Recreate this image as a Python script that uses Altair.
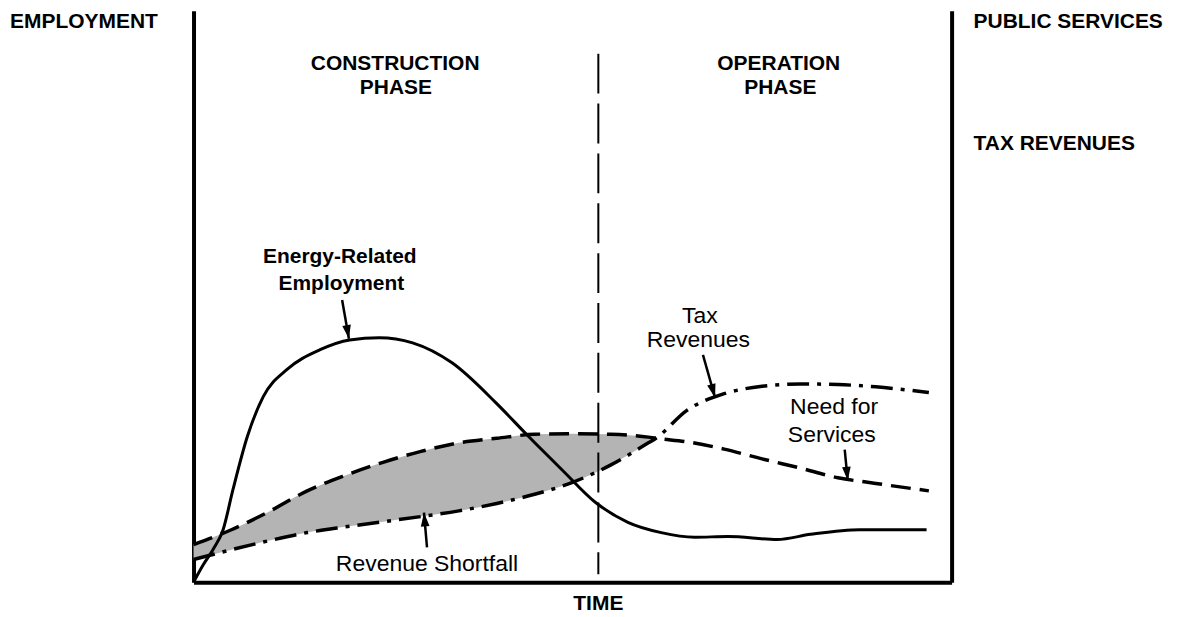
import altair as alt
import pandas as pd
import numpy as np

# ---------------- data ----------------
# shared time grid for the two public-finance curves (0-100 time units)
time_pts = [0, 5, 10, 15, 20, 25, 30, 35, 40, 45, 50, 55, 60, 61, 65, 70, 75, 80, 85, 90, 97]
need_for_services = [6.6, 9.2, 12.4, 16.0, 18.7, 21.0, 22.9, 24.4, 25.2, 25.9, 26.0, 25.9,
                     25.4, 25.2, 24.6, 23.3, 21.6, 20.0, 18.3, 17.3, 16.0]
tax_revenues = [4.0, 5.7, 7.3, 8.7, 9.7, 10.6, 11.5, 12.5, 13.8, 15.4, 17.5, 20.5,
                24.4, 25.2, 30.0, 33.0, 34.3, 34.7, 34.6, 34.2, 33.2]

emp_time = [0, 1.3, 2.6, 3.9, 5.2, 7.1, 9.2, 12.3, 16.7, 20.6, 24.5, 28.9, 34.1, 39.9,
            44.2, 48.6, 53.0, 57.3, 61.7, 66.1, 70.5, 77.0, 81.4, 87.9, 96.7]
employment = [0, 3.1, 5.8, 9.2, 16.2, 25.5, 32.5, 37.2, 40.7, 42.4, 42.8, 41.9, 38.4, 31.4,
              25.5, 19.7, 14.0, 10.5, 8.7, 7.9, 8.0, 7.5, 8.4, 9.2, 9.2]

shortfall_end = 61          # where tax revenues catch up with need for services
phase_boundary = 53.4       # construction / operation divide
boundary_top, boundary_bottom = 92.5, 1.4

# heading labels (bold capitals)
left_caps = ["EMPLOYMENT", "PUBLIC SERVICES", "TAX REVENUES"]
left_caps_x = [-24.2, 102.9, 102.9]
left_caps_y = [97.0, 97.0, 75.6]
center_caps = ["CONSTRUCTION", "PHASE", "OPERATION", "PHASE", "TIME"]
center_caps_x = [26.6, 26.7, 77.2, 77.4, 53.4]
center_caps_y = [89.7, 85.5, 89.7, 85.5, -4.9]

# curve annotations
bold_notes = ["Energy-Related", "Employment"]
bold_notes_x = [19.3, 19.5]
bold_notes_y = [55.8, 51.1]
notes = ["Tax", "Revenues", "Need for", "Services", "Revenue Shortfall"]
notes_x = [66.8, 66.6, 84.5, 84.2, 30.8]
notes_y = [45.4, 41.2, 29.5, 24.6, 1.9]

# arrows: start -> tip
arrow_x1 = [19.6, 30.8, 67.2, 85.9]
arrow_y1 = [49.4, 6.1, 39.8, 23.2]
arrow_x2 = [20.5, 30.4, 68.8, 86.3]
arrow_y2 = [42.6, 12.2, 32.3, 17.8]

# ---------------- tables ----------------
W, H = 760, 573
pf = pd.DataFrame({"x": time_pts, "y": need_for_services, "y2": tax_revenues})
emp = pd.DataFrame({"x": emp_time, "y": employment})
need_df = pd.DataFrame({"x": time_pts, "y": need_for_services})
tax_df = pd.DataFrame({"x": time_pts, "y": tax_revenues})
div_df = pd.DataFrame({"x": [phase_boundary], "y": [boundary_top], "y2": [boundary_bottom]})
lcaps = pd.DataFrame({"x": left_caps_x, "y": left_caps_y, "t": left_caps})
ccaps = pd.DataFrame({"x": center_caps_x, "y": center_caps_y, "t": center_caps})
bnotes = pd.DataFrame({"x": bold_notes_x, "y": bold_notes_y, "t": bold_notes})
rnotes = pd.DataFrame({"x": notes_x, "y": notes_y, "t": notes})
arr = pd.DataFrame({"x": arrow_x1, "y": arrow_y1, "x2": arrow_x2, "y2": arrow_y2})
sx, sy = W / 100.0, H / 100.0
arr["angle"] = np.degrees(np.arctan2((arr.x2 - arr.x) * sx, (arr.y2 - arr.y) * sy)) % 360
heads = pd.DataFrame({"x": arr.x2, "y": arr.y2, "angle": arr.angle})

# ---------------- encodings ----------------
xs = alt.Scale(domain=[0, 100], nice=False, zero=False)
ys = alt.Scale(domain=[0, 100], nice=False, zero=False)
AX = dict(domain=True, domainColor="black", domainWidth=4, labels=False,
          ticks=False, grid=False)
X = alt.X("x:Q", scale=xs, axis=alt.Axis(**AX), title=None)
Y_none = alt.Y("y:Q", scale=ys, axis=None)

area = alt.Chart(pf).transform_filter(alt.datum.x <= shortfall_end).mark_area(
    interpolate="monotone", color="#b4b4b4"
).encode(x=X, y=Y_none, y2="y2:Q")

emp_line = alt.Chart(emp).mark_line(
    interpolate="monotone", color="black", strokeWidth=3
).encode(x=X, y=alt.Y("y:Q", scale=ys, axis=alt.Axis(orient="left", **AX), title=None))

need_line = alt.Chart(need_df).mark_line(
    interpolate="monotone", color="black", strokeWidth=3.5, strokeDash=[20, 9]
).encode(x=X, y=alt.Y("y:Q", scale=ys, axis=alt.Axis(orient="right", **AX), title=None))

tax_line = alt.Chart(tax_df).mark_line(
    interpolate="monotone", color="black", strokeWidth=3.5, strokeDash=[22, 8, 4, 8]
).encode(x=X, y=Y_none)

divider = alt.Chart(div_df).mark_rule(
    color="black", strokeWidth=2, strokeDash=[40, 10]
).encode(x=X, y=Y_none, y2="y2:Q")

arrow_lines = alt.Chart(arr).mark_rule(color="black", strokeWidth=2.5).encode(
    x=X, y=Y_none, x2="x2:Q", y2="y2:Q")

arrow_heads = alt.Chart(heads).mark_point(
    shape="M0,0L0.5,1.6L-0.5,1.6Z", filled=True, color="black", opacity=1, size=300
).encode(x=X, y=Y_none, angle=alt.Angle("angle:Q", scale=None))

FONT = "Liberation Sans"
lcap_text = alt.Chart(lcaps).mark_text(
    font=FONT, fontSize=21, fontWeight="bold", align="left",
    baseline="alphabetic", color="black"
).encode(x=X, y=Y_none, text="t:N")

ccap_text = alt.Chart(ccaps).mark_text(
    font=FONT, fontSize=21, fontWeight="bold", align="center",
    baseline="alphabetic", color="black"
).encode(x=X, y=Y_none, text="t:N")

bnote_text = alt.Chart(bnotes).mark_text(
    font=FONT, fontSize=21, fontWeight="bold", align="center",
    baseline="alphabetic", color="black"
).encode(x=X, y=Y_none, text="t:N")

rnote_text = alt.Chart(rnotes).mark_text(
    font=FONT, fontSize=23, align="center", baseline="alphabetic", color="black"
).encode(x=X, y=Y_none, text="t:N")

chart = alt.layer(
    area, emp_line, need_line, tax_line, divider, arrow_lines, arrow_heads,
    lcap_text, ccap_text, bnote_text, rnote_text
).resolve_axis(y="independent").properties(
    width=W, height=H,
    background="white",
    autosize=alt.AutoSizeParams(type="none"),
    padding={"left": 186, "top": 2, "right": 234, "bottom": 34},
).configure_view(stroke=None)

chart.save("out.html", embed_options={"renderer": "svg", "actions": False})
